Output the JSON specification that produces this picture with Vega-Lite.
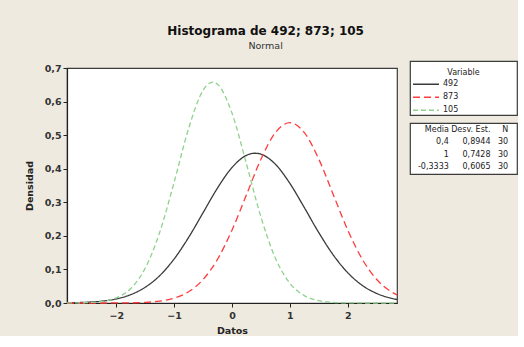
{
  "$schema": "https://vega.github.io/schema/vega-lite/v6.json",
  "background": "#EEEAE0",
  "padding": {"left": 23, "top": 24, "right": 0, "bottom": 0},
  "title": {
    "text": "Histograma de 492; 873; 105",
    "subtitle": "Normal",
    "font": "DejaVu Sans",
    "fontSize": 12,
    "fontWeight": "bold",
    "color": "#111111",
    "subtitleFont": "DejaVu Sans",
    "subtitleFontSize": 9.5,
    "subtitleColor": "#333333",
    "subtitlePadding": 3,
    "offset": 9,
    "anchor": "middle",
    "dx": -5
  },
  "datasets": {
    "curves": [
      {"Variable": "492", "x": -2.85, "y": 0.0006},
      {"Variable": "492", "x": -2.75, "y": 0.0009},
      {"Variable": "492", "x": -2.5, "y": 0.0023},
      {"Variable": "492", "x": -2.25, "y": 0.0055},
      {"Variable": "492", "x": -2, "y": 0.0122},
      {"Variable": "492", "x": -1.75, "y": 0.0248},
      {"Variable": "492", "x": -1.5, "y": 0.0468},
      {"Variable": "492", "x": -1.25, "y": 0.0813},
      {"Variable": "492", "x": -1, "y": 0.131},
      {"Variable": "492", "x": -0.75, "y": 0.1952},
      {"Variable": "492", "x": -0.5, "y": 0.2689},
      {"Variable": "492", "x": -0.25, "y": 0.3426},
      {"Variable": "492", "x": 0, "y": 0.4036},
      {"Variable": "492", "x": 0.25, "y": 0.4399},
      {"Variable": "492", "x": 0.4, "y": 0.4461},
      {"Variable": "492", "x": 0.5, "y": 0.4433},
      {"Variable": "492", "x": 0.75, "y": 0.4132},
      {"Variable": "492", "x": 1, "y": 0.3562},
      {"Variable": "492", "x": 1.25, "y": 0.284},
      {"Variable": "492", "x": 1.5, "y": 0.2094},
      {"Variable": "492", "x": 1.75, "y": 0.1428},
      {"Variable": "492", "x": 2, "y": 0.0901},
      {"Variable": "492", "x": 2.25, "y": 0.0525},
      {"Variable": "492", "x": 2.5, "y": 0.0284},
      {"Variable": "492", "x": 2.75, "y": 0.0141},
      {"Variable": "492", "x": 2.85, "y": 0.0105},
      {"Variable": "873", "x": -2.85, "y": 0},
      {"Variable": "873", "x": -2.5, "y": 0},
      {"Variable": "873", "x": -2.25, "y": 0},
      {"Variable": "873", "x": -2, "y": 0.0002},
      {"Variable": "873", "x": -1.75, "y": 0.0006},
      {"Variable": "873", "x": -1.5, "y": 0.0019},
      {"Variable": "873", "x": -1.25, "y": 0.0055},
      {"Variable": "873", "x": -1, "y": 0.0143},
      {"Variable": "873", "x": -0.75, "y": 0.0335},
      {"Variable": "873", "x": -0.5, "y": 0.0699},
      {"Variable": "873", "x": -0.25, "y": 0.1304},
      {"Variable": "873", "x": 0, "y": 0.217},
      {"Variable": "873", "x": 0.25, "y": 0.3226},
      {"Variable": "873", "x": 0.5, "y": 0.4282},
      {"Variable": "873", "x": 0.75, "y": 0.5075},
      {"Variable": "873", "x": 1, "y": 0.5371},
      {"Variable": "873", "x": 1.25, "y": 0.5075},
      {"Variable": "873", "x": 1.5, "y": 0.4282},
      {"Variable": "873", "x": 1.75, "y": 0.3226},
      {"Variable": "873", "x": 2, "y": 0.217},
      {"Variable": "873", "x": 2.25, "y": 0.1304},
      {"Variable": "873", "x": 2.5, "y": 0.0699},
      {"Variable": "873", "x": 2.75, "y": 0.0335},
      {"Variable": "873", "x": 2.85, "y": 0.0242},
      {"Variable": "105", "x": -2.85, "y": 0.0001},
      {"Variable": "105", "x": -2.75, "y": 0.0002},
      {"Variable": "105", "x": -2.5, "y": 0.0011},
      {"Variable": "105", "x": -2.25, "y": 0.0045},
      {"Variable": "105", "x": -2, "y": 0.0151},
      {"Variable": "105", "x": -1.75, "y": 0.043},
      {"Variable": "105", "x": -1.5, "y": 0.1034},
      {"Variable": "105", "x": -1.25, "y": 0.2099},
      {"Variable": "105", "x": -1, "y": 0.3595},
      {"Variable": "105", "x": -0.75, "y": 0.5195},
      {"Variable": "105", "x": -0.5, "y": 0.6334},
      {"Variable": "105", "x": -0.3333, "y": 0.6578},
      {"Variable": "105", "x": -0.25, "y": 0.6516},
      {"Variable": "105", "x": 0, "y": 0.5656},
      {"Variable": "105", "x": 0.25, "y": 0.4142},
      {"Variable": "105", "x": 0.5, "y": 0.256},
      {"Variable": "105", "x": 0.75, "y": 0.1335},
      {"Variable": "105", "x": 1, "y": 0.0587},
      {"Variable": "105", "x": 1.25, "y": 0.0218},
      {"Variable": "105", "x": 1.5, "y": 0.0068},
      {"Variable": "105", "x": 1.75, "y": 0.0018},
      {"Variable": "105", "x": 2, "y": 0.0004},
      {"Variable": "105", "x": 2.25, "y": 0.0001},
      {"Variable": "105", "x": 2.5, "y": 0},
      {"Variable": "105", "x": 2.85, "y": 0}
    ],
    "legendItems": [
      {"Variable": "492"},
      {"Variable": "873"},
      {"Variable": "105"}
    ],
    "stats": [
      {"row": "h", "col": "Media", "t": "Media"},
      {"row": "h", "col": "Desv. Est.", "t": "Desv. Est."},
      {"row": "h", "col": "N", "t": "N"},
      {"row": "1", "col": "Media", "t": "0,4"},
      {"row": "1", "col": "Desv. Est.", "t": "0,8944"},
      {"row": "1", "col": "N", "t": "30"},
      {"row": "2", "col": "Media", "t": "1"},
      {"row": "2", "col": "Desv. Est.", "t": "0,7428"},
      {"row": "2", "col": "N", "t": "30"},
      {"row": "3", "col": "Media", "t": "-0,3333"},
      {"row": "3", "col": "Desv. Est.", "t": "0,6065"},
      {"row": "3", "col": "N", "t": "30"}
    ]
  },
  "columns": 2,
  "align": "none",
  "spacing": 8,
  "resolve": {"legend": {"color": "independent", "strokeDash": "independent"}},
  "concat": [
    {
      "spacing": 0,
      "vconcat": [
        {
          "width": 330,
          "height": 1,
          "view": {"stroke": null, "fill": null},
          "data": {"values": []},
          "mark": "point"
        },
        {
          "width": 330,
          "height": 235,
          "data": {"name": "curves"},
          "mark": {"type": "line", "interpolate": "monotone", "strokeWidth": 1.3},
          "encoding": {
            "x": {
              "field": "x", "type": "quantitative",
              "scale": {"domain": [-2.85, 2.85], "nice": false, "zero": false},
              "axis": {"title": "Datos", "values": [-2, -1, 0, 1, 2], "format": "d", "labelPadding": 3, "titlePadding": 6}
            },
            "y": {
              "field": "y", "type": "quantitative",
              "scale": {"domain": [0, 0.7], "nice": false},
              "axis": {"title": "Densidad", "values": [0, 0.1, 0.2, 0.3, 0.4, 0.5, 0.6, 0.7], "labelExpr": "replace(format(datum.value, '.1f'), '.', ',')", "titlePadding": 10}
            },
            "color": {
              "field": "Variable", "type": "nominal",
              "scale": {"domain": ["492", "873", "105"], "range": ["#3a3a3a", "#ff3b3b", "#8fd18f"]},
              "legend": null
            },
            "strokeDash": {
              "field": "Variable", "type": "nominal",
              "scale": {"domain": ["492", "873", "105"], "range": [[1, 0], [7, 4], [5, 3]]},
              "legend": null
            }
          }
        }
      ]
    },
    {
      "spacing": 4,
      "resolve": {"legend": {"color": "independent", "strokeDash": "independent"}},
      "vconcat": [
        {
          "width": 107,
          "height": 54,
          "title": {"text": "Variable", "font": "DejaVu Sans", "fontSize": 8, "fontWeight": "normal", "color": "#222222", "offset": -16, "anchor": "middle"},
          "data": {"name": "legendItems"},
          "mark": {"type": "line"},
          "encoding": {
            "x": {"field": "Variable", "type": "nominal", "axis": null},
            "color": {
              "field": "Variable", "type": "nominal",
              "scale": {"domain": ["492", "873", "105"], "range": ["#3a3a3a", "#ff3b3b", "#8fd18f"]},
              "legend": {
                "orient": "none", "legendX": 2, "legendY": 17, "title": null,
                "symbolType": "stroke", "symbolSize": 676, "symbolStrokeWidth": 1.3,
                "clipHeight": 12.5, "rowPadding": 0, "labelOffset": 3, "padding": 0,
                "labelFont": "DejaVu Sans", "labelFontSize": 8, "labelColor": "#222222"
              }
            },
            "strokeDash": {
              "field": "Variable", "type": "nominal",
              "scale": {"domain": ["492", "873", "105"], "range": [[1, 0], [7, 4], [5, 3]]},
              "legend": {
                "orient": "none", "legendX": 2, "legendY": 17, "title": null,
                "symbolType": "stroke", "symbolSize": 676, "symbolStrokeWidth": 1.3,
                "clipHeight": 12.5, "rowPadding": 0, "labelOffset": 3, "padding": 0,
                "labelFont": "DejaVu Sans", "labelFontSize": 8, "labelColor": "#222222"
              }
            }
          }
        },
        {
          "width": 107,
          "height": 51,
          "data": {"name": "stats"},
          "encoding": {
            "x": {"field": "col", "type": "nominal", "scale": {"type": "point", "domain": ["Media", "Desv. Est.", "N"], "padding": 0.5}, "axis": null},
            "y": {"field": "row", "type": "ordinal", "scale": {"type": "point", "domain": ["h", "1", "2", "3"], "padding": 0.6}, "axis": null},
            "text": {"field": "t"}
          },
          "layer": [
            {"transform": [{"filter": "datum.col == 'Media'"}], "mark": {"type": "text", "align": "right", "dx": 21, "font": "DejaVu Sans", "fontSize": 8, "color": "#222222"}},
            {"transform": [{"filter": "datum.col == 'Desv. Est.'"}], "mark": {"type": "text", "align": "right", "dx": 27, "font": "DejaVu Sans", "fontSize": 8, "color": "#222222"}},
            {"transform": [{"filter": "datum.col == 'N'"}], "mark": {"type": "text", "align": "right", "dx": 9, "font": "DejaVu Sans", "fontSize": 8, "color": "#222222"}}
          ]
        }
      ]
    }
  ],
  "config": {
    "font": "DejaVu Sans",
    "view": {"stroke": "#3c3c3c", "strokeWidth": 1.2, "fill": "white"},
    "axis": {
      "grid": false,
      "domainColor": "#222222",
      "domainWidth": 1.2,
      "tickColor": "#222222",
      "tickSize": 4,
      "labelColor": "#333333",
      "labelFont": "DejaVu Sans",
      "labelFontSize": 9.5,
      "labelFontWeight": "bold",
      "labelPadding": 2,
      "titleColor": "#222222",
      "titleFont": "DejaVu Sans",
      "titleFontSize": 9.5,
      "titleFontWeight": "bold"
    }
  }
}
